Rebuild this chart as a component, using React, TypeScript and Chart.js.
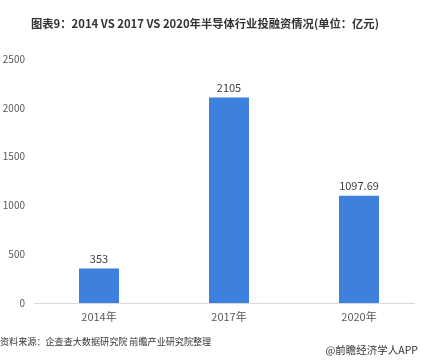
import React, { useEffect, useRef } from "react";
import { Chart, registerables } from "chart.js";

Chart.register(...registerables);

const categories: string[] = ["2014年", "2017年", "2020年"];
const values: number[] = [353, 2105, 1097.69];
const valueLabels: string[] = ["353", "2105", "1097.69"];
const yTicks: number[] = [0, 500, 1000, 1500, 2000, 2500];

const titleText = "图表9：2014 VS 2017 VS 2020年半导体行业投融资情况(单位：亿元)";
const sourceText = "资料来源：企查查大数据研究院 前瞻产业研究院整理";
const brandText = "@前瞻经济学人APP";

const FONT = '"Noto Sans CJK SC", "Noto Sans", sans-serif';

export default function App() {
  const ref = useRef<HTMLCanvasElement | null>(null);

  useEffect(() => {
    document.body.style.margin = "0";
    const canvas = ref.current;
    if (!canvas) return;

    const valueLabelPlugin = {
      id: "valueLabels",
      afterDatasetsDraw(chart: any) {
        const ctx = chart.ctx;
        const meta = chart.getDatasetMeta(0);
        ctx.save();
        ctx.font = `11px ${FONT}`;
        ctx.fillStyle = "#404040";
        ctx.textAlign = "center";
        ctx.textBaseline = "middle";
        meta.data.forEach((bar: any, i: number) => {
          ctx.fillText(valueLabels[i], bar.x, bar.y - 10);
        });
        ctx.restore();
      },
    };

    const baselinePlugin = {
      id: "baseline",
      beforeDatasetsDraw(chart: any) {
        const ctx = chart.ctx;
        const y = chart.scales.y.getPixelForValue(0);
        const { left, right } = chart.chartArea;
        ctx.save();
        ctx.strokeStyle = "#d9d9d9";
        ctx.lineWidth = 1;
        ctx.beginPath();
        ctx.moveTo(left, Math.round(y) + 0.5);
        ctx.lineTo(right - 9, Math.round(y) + 0.5);
        ctx.stroke();
        ctx.restore();
      },
    };

    const chart = new Chart(canvas, {
      type: "bar",
      data: {
        labels: categories,
        datasets: [
          {
            data: values,
            backgroundColor: "#3d80de",
            categoryPercentage: 1,
            barPercentage: 40 / 130,
          },
        ],
      },
      options: {
        animation: false,
        responsive: false,
        maintainAspectRatio: false,
        layout: { padding: { top: 59, left: 0, right: 0, bottom: 0 } },
        plugins: {
          legend: { display: false },
          title: { display: false },
          tooltip: { enabled: false },
        },
        scales: {
          x: {
            grid: { display: false, drawTicks: false },
            border: { display: false },
            ticks: {
              color: "#595959",
              font: { family: FONT, size: 11 },
              padding: 7,
            },
            afterFit: (axis: any) => {
              axis.height = 57;
            },
          },
          y: {
            min: 0,
            max: 2500,
            afterBuildTicks: (axis: any) => {
              axis.ticks = yTicks.map((v) => ({ value: v }));
            },
            grid: { display: false, drawTicks: false },
            border: { display: false },
            ticks: {
              color: "#595959",
              font: { family: FONT, size: 10 },
              padding: 9,
              callback: (v: any) => String(v),
            },
            afterFit: (axis: any) => {
              axis.width = 34;
            },
          },
        },
      },
      plugins: [valueLabelPlugin, baselinePlugin],
    });

    return () => chart.destroy();
  }, []);

  return (
    <div style={{ position: "absolute", left: 0, top: 0, width: 424, height: 360, background: "#fff", overflow: "hidden" }}>
      <canvas ref={ref} width={424} height={360} style={{ position: "absolute", left: 0, top: 0 }} />
      <div
        style={{
          position: "absolute",
          left: 31,
          top: 14,
          fontFamily: FONT,
          fontWeight: "bold",
          fontSize: 11.3,
          color: "#333",
          whiteSpace: "nowrap",
          lineHeight: "18px",
        }}
      >
        {titleText}
      </div>
      <div
        style={{
          position: "absolute",
          left: 0,
          top: 334,
          fontFamily: FONT,
          fontSize: 9.1,
          color: "#333",
          whiteSpace: "nowrap",
          lineHeight: "14px",
        }}
      >
        {sourceText}
      </div>
      <div
        style={{
          position: "absolute",
          right: 6,
          top: 343,
          fontFamily: FONT,
          fontSize: 10.5,
          color: "#333",
          whiteSpace: "nowrap",
          lineHeight: "14px",
        }}
      >
        {brandText}
      </div>
    </div>
  );
}
